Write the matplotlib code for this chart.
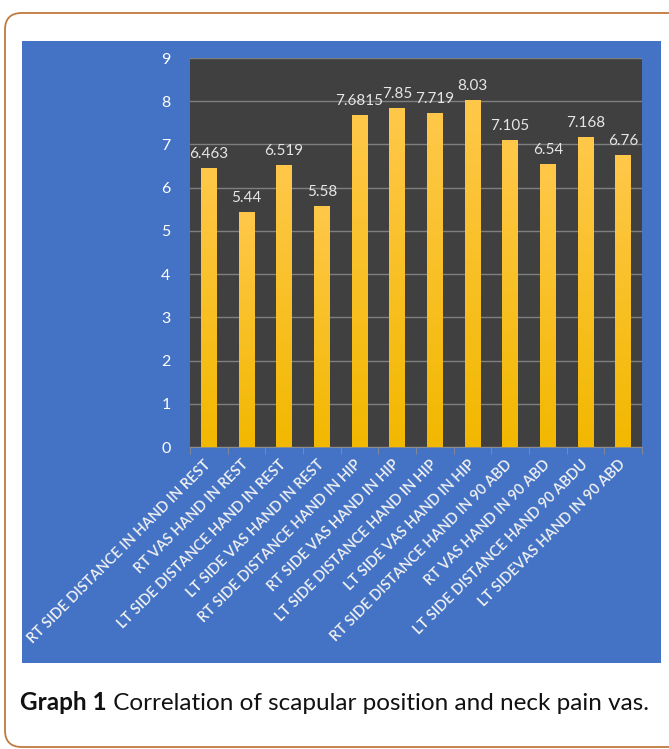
import numpy as np
import matplotlib
matplotlib.use('Agg')
import matplotlib.pyplot as plt
from matplotlib.patches import Rectangle, FancyBboxPatch
from matplotlib.colors import LinearSegmentedColormap

categories = ['RT SIDE DISTANCE IN HAND IN REST', 'RT VAS HAND IN REST',
              'LT SIDE DISTANCE HAND IN REST', 'LT SIDE VAS HAND IN REST',
              'RT SIDE DISTANCE HAND IN HIP', 'RT SIDE VAS HAND IN HIP',
              'LT SIDE DISTANCE HAND IN HIP', 'LT SIDE VAS HAND IN HIP',
              'RT SIDE DISTANCE HAND IN 90 ABD', 'RT VAS HAND IN 90 ABD',
              'LT SIDE DISTANCE HAND 90 ABDU', 'LT SIDEVAS HAND IN 90 ABD']
values = [6.463, 5.44, 6.519, 5.58, 7.6815, 7.85, 7.719, 8.03, 7.105, 6.54, 7.168, 6.76]
value_labels = ['6.463', '5.44', '6.519', '5.58', '7.6815', '7.85', '7.719', '8.03',
                '7.105', '6.54', '7.168', '6.76']
yticks = list(range(0, 10))
caption_bold = 'Graph 1'
caption_rest = ' Correlation of scapular position and neck pain vas.'

W, H = 669, 749
plt.rcParams['font.family'] = ['Lato', 'DejaVu Sans']

fig = plt.figure(figsize=(W / 100, H / 100), dpi=100)
fig.patch.set_facecolor('white')

def px(x0, y0, x1, y1):
    # pixel box (top-down) -> figure fraction rect
    return [x0 / W, 1 - y1 / H, (x1 - x0) / W, (y1 - y0) / H]

# outer rounded frame (runs off the right edge)
frame = FancyBboxPatch((5 / W, 1 - 747 / H), 720 / W, (747 - 13) / H,
                       boxstyle='round,pad=0,rounding_size=0.025',
                       transform=fig.transFigure, fill=False, zorder=-10,
                       edgecolor='#C07A3C', linewidth=1.3, mutation_aspect=W / H)
fig.patches.append(frame)

# blue chart panel
fig.patches.append(Rectangle((22 / W, 1 - 663 / H), (661 - 22) / W, (663 - 41) / H,
                             transform=fig.transFigure, facecolor='#4472C4',
                             edgecolor='none', zorder=-10))

ax = fig.add_axes(px(190, 58, 642, 447))
ax.set_facecolor('#404040')
x = np.arange(len(values))
bars = ax.bar(x, values, width=0.42, color='#FFC000', zorder=3)

cmap = LinearSegmentedColormap.from_list('gold', ['#F2B800', '#FFC84A'])
grad = np.linspace(0, 1, 256).reshape(-1, 1)
for b in bars:
    bx, by, bw, bh = b.get_x(), b.get_y(), b.get_width(), b.get_height()
    im = ax.imshow(grad, cmap=cmap, origin='lower', aspect='auto',
                   extent=(bx, bx + bw, by, by + bh), zorder=3)
    im.set_clip_path(b)
    b.set_alpha(0)

for xi, v, lab in zip(x, values, value_labels):
    ax.annotate(lab, (xi, v), xytext=(0, 5), textcoords='offset points',
                ha='center', va='bottom', color='#E6E6E6', fontsize=11, zorder=4)

ax.set_xlim(-0.5, len(values) - 0.5)
ax.set_ylim(0, 9)
ax.set_yticks(yticks)
ax.yaxis.grid(True, color='#7F7F7F', linewidth=1.0, zorder=1)
ax.tick_params(axis='y', length=0, colors='white', labelsize=11.5, pad=14)
ax.set_xticks(x)
ax.set_xticklabels(categories, rotation=45, ha='right', va='center',
                   rotation_mode='anchor', color='#F2F2F2', fontsize=10.5,
                   fontweight='semibold')
ax.set_xticks(np.arange(len(values) + 1) - 0.5, minor=True)
ax.tick_params(axis='x', which='major', length=0, pad=11)
ax.tick_params(axis='x', which='minor', length=5, color='#8C8C8C')
for s in ['top', 'right', 'left']:
    ax.spines[s].set_visible(False)
ax.spines['bottom'].set_color('#8C8C8C')

# caption
r = fig.canvas.get_renderer()
t1 = fig.text(20 / W, 1 - 703 / H, caption_bold, fontsize=17.5, fontweight='bold',
              ha='left', va='center', color='#111111')
bb = t1.get_window_extent(renderer=r)
fig.text(bb.x1 / W, 1 - 703 / H, caption_rest, fontsize=17.5, ha='left', va='center',
         color='#111111')

fig.savefig('out.png', dpi=100)
